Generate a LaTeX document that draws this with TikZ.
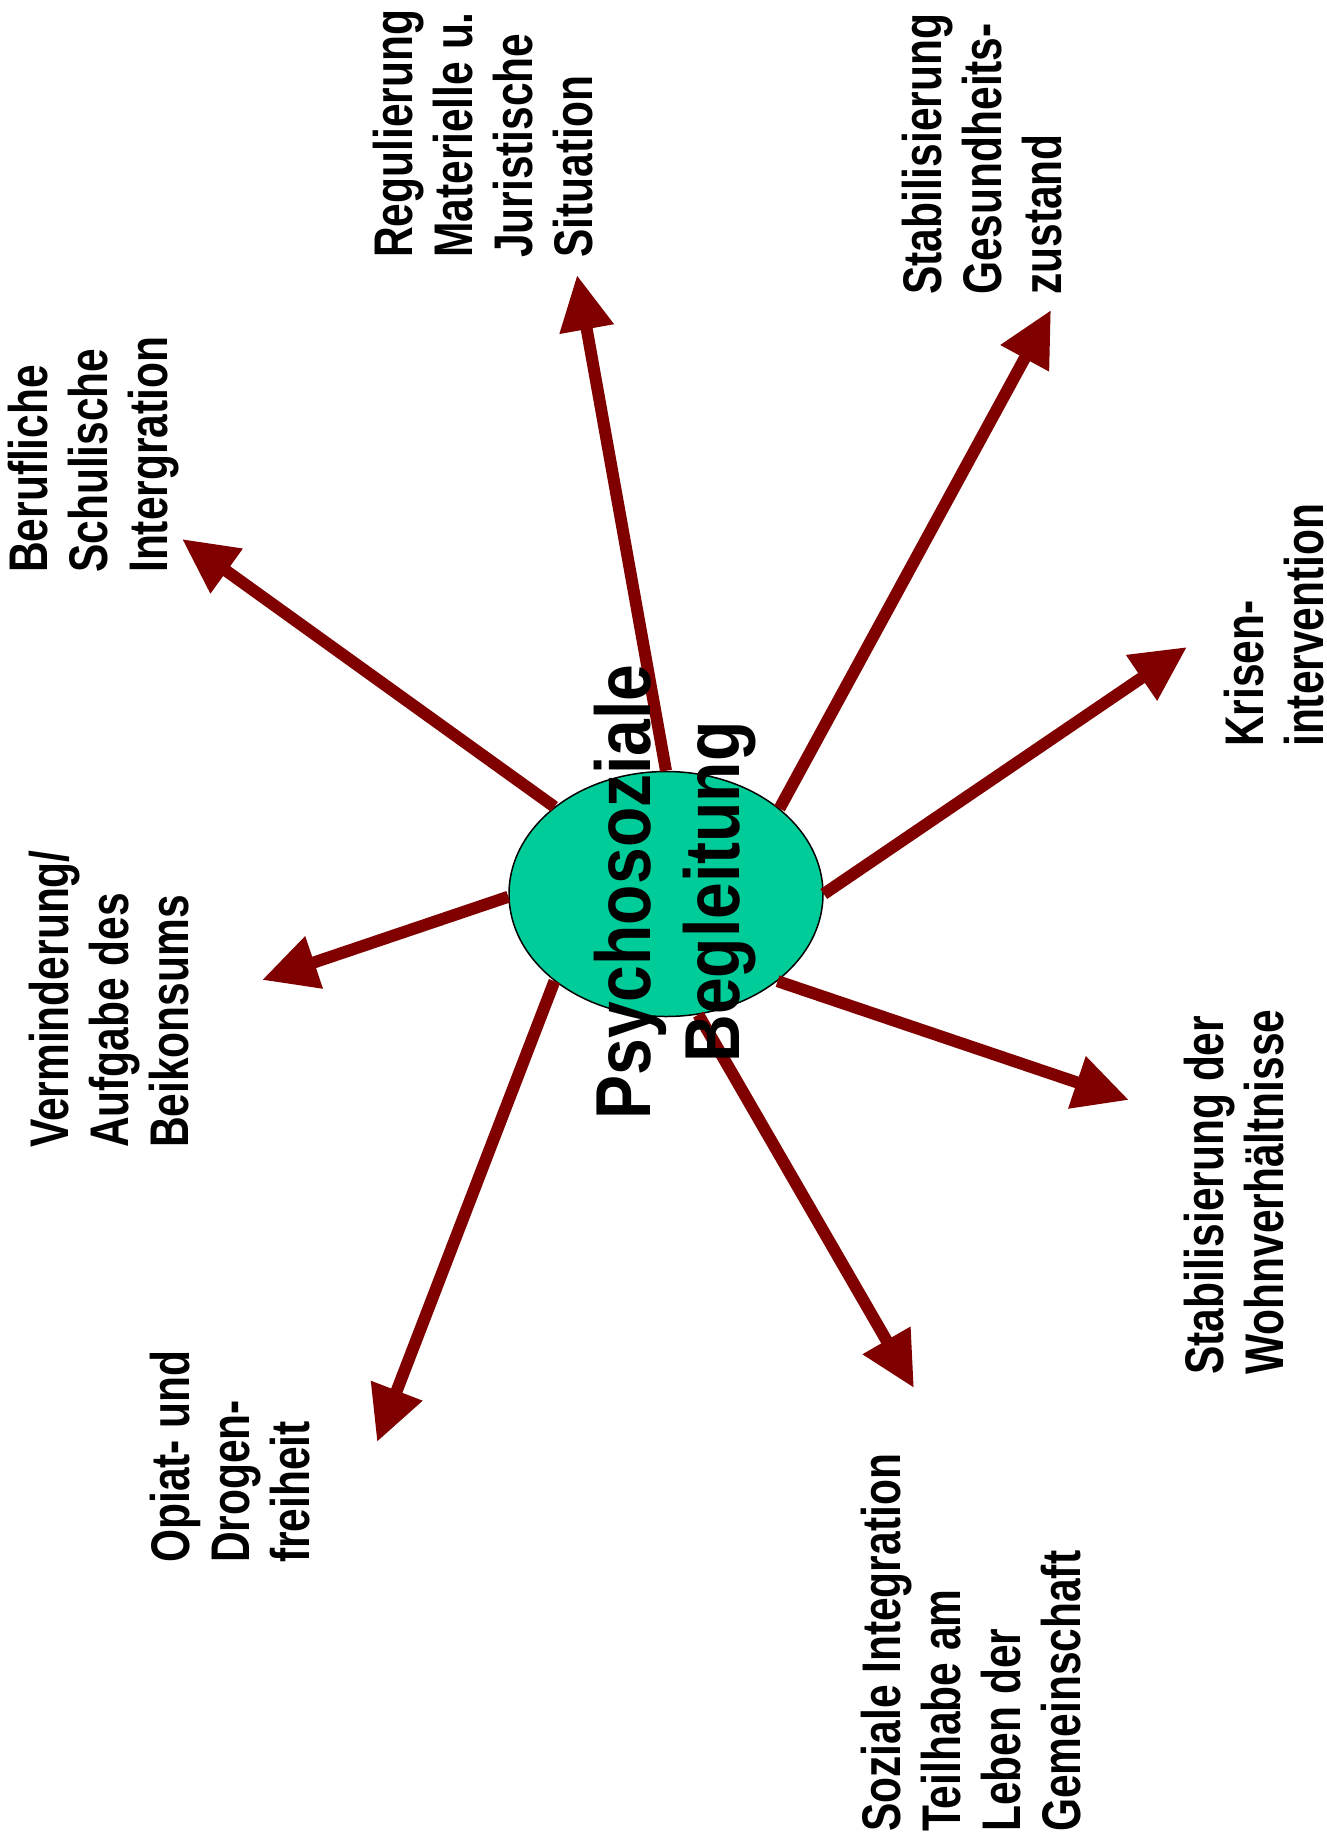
\documentclass[tikz,border=0pt]{standalone}
\usepackage{fontspec}
\setmainfont{Liberation Sans}
\usepackage{graphicx}
\usetikzlibrary{shapes.geometric,arrows.meta}
\definecolor{arrowred}{HTML}{800000}
\definecolor{ellgreen}{HTML}{00CC99}
\newcommand{\lbltext}[1]{\scalebox{1}[1.28]{\fontsize{42.5}{47}\selectfont\bfseries\begin{tabular}[t]{@{}l@{}}#1\end{tabular}}}
\newcommand{\ctrtext}[1]{\scalebox{1}[1.18]{\fontsize{66}{76}\selectfont\bfseries\begin{tabular}[t]{@{}c@{}}#1\end{tabular}}}
\begin{document}
\begin{tikzpicture}[x=1pt,y=-1pt,
  lbl/.style={rotate=90,anchor=base west,inner sep=0pt},
  spoke/.style={draw=arrowred,line width=12pt,-{Triangle[length=55pt,width=52pt,fill=arrowred]}},
  hub/.style={ellipse,draw=black,line width=1.5pt,fill=ellgreen,minimum width=314pt,minimum height=245pt,inner sep=0pt}]
\useasboundingbox[fill=white] (0,0) rectangle (1327,1837);
\node[hub] (c) at (666,894) {};
% arrow tips
\coordinate (tBer) at (182,539);
\coordinate (tReg) at (577,275);
\coordinate (tGes) at (1051,310);
\coordinate (tKri) at (1187,647);
\coordinate (tWoh) at (1129,1100);
\coordinate (tSoz) at (914,1388);
\coordinate (tOpi) at (377,1442);
\coordinate (tVer) at (262,980);
% spokes
\draw[spoke] (c.142.7) -- (tBer);
\draw[spoke] (c.90.5) -- (tReg);
\draw[spoke] (c.37.8) -- (tGes);
\draw[spoke] (c.0.4) -- (tKri);
\draw[spoke] (c.-38.2) -- (tWoh);
\draw[spoke] (c.-75) -- (tSoz);
\draw[spoke] (c.218.2) -- (tOpi);
\draw[spoke] (c.181) -- (tVer);
% labels
\node[lbl] (lBer) at (47,573) {\lbltext{Berufliche\\Schulische\\Intergration}};
\node[lbl] (lReg) at (412,258) {\lbltext{Regulierung\\Materielle u.\\Juristische\\Situation}};
\node[lbl] (lGes) at (941,295) {\lbltext{Stabilisierung\\Gesundheits-\\zustand}};
\node[lbl] (lKri) at (1263,747) {\lbltext{Krisen-\\intervention}};
\node[lbl] (lWoh) at (1223,1375) {\lbltext{Stabilisierung der\\Wohnverhältnisse}};
\node[lbl] (lSoz) at (900,1832) {\lbltext{Soziale Integration\\Teilhabe am\\Leben der\\Gemeinschaft}};
\node[lbl] (lOpi) at (189,1563) {\lbltext{Opiat- und\\Drogen-\\freiheit}};
\node[lbl] (lVer) at (68,1148) {\lbltext{Verminderung/\\Aufgabe des\\Beikonsums}};
% centre text
\node[rotate=90,anchor=base,inner sep=0pt] (ctr) at (650,892) {\ctrtext{Psychosoziale\\Begleitung}};
\end{tikzpicture}
\end{document}
